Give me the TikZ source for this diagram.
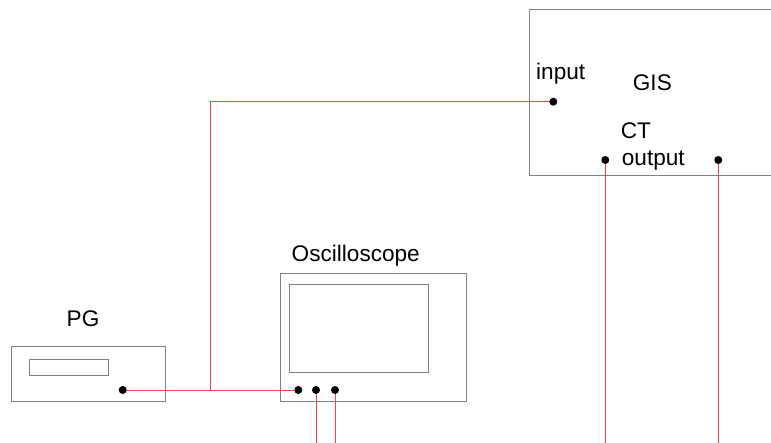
\documentclass[tikz,border=0pt]{standalone}
\usepackage{fontspec}
\setmainfont{Liberation Sans}
\usetikzlibrary{backgrounds}
\begin{document}
\begin{tikzpicture}[x=1pt,y=-1pt,
  box/.style={draw=black!50, line width=0.9pt},
  wire/.style={draw=red!75, line width=0.8pt},
  pin/.style={circle, fill=black, inner sep=0pt, minimum size=8pt},
  lbl/.style={inner sep=0pt, anchor=base west, font=\fontsize{22.6}{26}\selectfont}]
\useasboundingbox (0,0) rectangle (771,443);
\clip (0,0) rectangle (771,443);
% boxes
\draw[box] (11.7,346.7) rectangle (165.7,401.7);
\draw[box] (29.3,359.3) rectangle (108.3,375);
\draw[box] (280,273.3) rectangle (466.7,401.7);
\draw[box] (289.3,284.3) rectangle (428.3,372.3);
\draw[box] (529.3,9.3) rectangle (790,175);
% labels
\node[lbl] (pgl) at (66.5,326.7) {PG};
\node[lbl] (oscl) at (291.5,261.7) {Oscilloscope};
\node[lbl] (inl) at (536,79.3) {input};
\node[lbl] (gisl) at (632.7,90.7) {GIS};
\node[lbl] (ctl) at (620.7,139) {CT};
\node[lbl] (outl) at (621.7,166) {output};
% pins
\node[pin] (pg) at (122.7,390) {};
\node[pin] (o1) at (298.3,390) {};
\node[pin] (o2) at (316,390) {};
\node[pin] (o3) at (335,390) {};
\node[pin] (gin) at (553.3,101.7) {};
\node[pin] (c1) at (605.3,160) {};
\node[pin] (c2) at (718.3,160) {};
% free ends / junction
\coordinate (j) at (210.7,390);
\coordinate (o2e) at (316,450);
\coordinate (o3e) at (335,450);
\coordinate (c1e) at (605.3,450);
\coordinate (c2e) at (718.3,450);
% wires
\begin{scope}[on background layer]
\draw[wire] (pg.center) -- (o1.center);
\draw[wire] (j) |- (gin.center);
\draw[wire] (o2.center) -- (o2e);
\draw[wire] (o3.center) -- (o3e);
\draw[wire] (c1.center) -- (c1e);
\draw[wire] (c2.center) -- (c2e);
\end{scope}
\end{tikzpicture}
\end{document}
